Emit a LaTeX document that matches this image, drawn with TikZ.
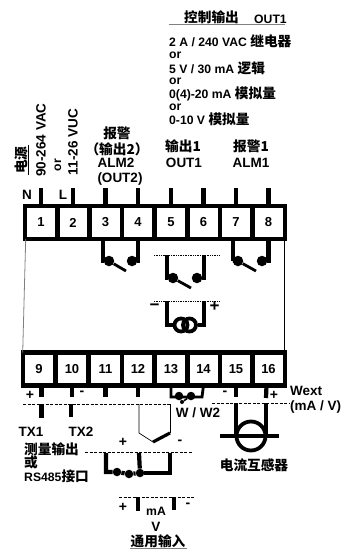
\documentclass[tikz,border=0pt]{standalone}
\usepackage{fontspec}
\setmainfont{Liberation Sans}
\newfontfamily\cjk[Scale=1.12]{Noto Sans CJK SC}
\newcommand{\zh}[1]{{\cjk #1}}
\tikzset{
  lab/.style={inner sep=0pt,font=\bfseries\fontsize{12.2}{12.2}\selectfont},
  big/.style={inner sep=0pt,font=\bfseries\fontsize{13.5}{13.5}\selectfont},
  sign/.style={inner sep=0pt,font=\bfseries\fontsize{14}{14}\selectfont},
  term/.style={draw,line width=4.4pt,minimum width=32.6pt,minimum height=33pt,inner sep=0pt,outer sep=0pt,font=\bfseries\fontsize{13}{13}\selectfont},
  wire/.style={line width=4.2pt},
  fine/.style={line width=0.7pt},
  dashline/.style={line width=0.6pt,dash pattern=on 3pt off 1.5pt},
  contact/.style={circle,fill,inner sep=0pt,minimum size=10.5pt},
  tiny/.style={circle,fill,inner sep=0pt,minimum size=8.5pt},
}
\begin{document}
\begin{tikzpicture}[x=1pt,y=-1pt]
  \useasboundingbox (0,0) rectangle (343,550);
  \node[term] (t1) at (41,222.5) {1};
  \node[term] (t2) at (73,222.5) {2};
  \node[term] (t3) at (105.5,222.5) {3};
  \node[term] (t4) at (138,222.5) {4};
  \node[term] (t5) at (171,222.5) {5};
  \node[term] (t6) at (203.5,222.5) {6};
  \node[term] (t7) at (236,222.5) {7};
  \node[term] (t8) at (268.5,222.5) {8};
  \node[term] (t9) at (39,369) {9};
  \node[term] (t10) at (72,369) {10};
  \node[term] (t11) at (105.5,369) {11};
  \node[term] (t12) at (138,369) {12};
  \node[term] (t13) at (171,369) {13};
  \node[term] (t14) at (203.5,369) {14};
  \node[term] (t15) at (236,369) {15};
  \node[term] (t16) at (268.5,369) {16};
  \draw[line width=0.8pt,gray] (t1.south west)++(1,0) -- (t9.north west);
  \draw[line width=0.8pt] (t8.south east)++(0,0) -- (t16.north east);

  \node[lab,anchor=west] (ctrl) at (184,17) {\zh{控制输出}};
  \node[lab,anchor=west] (ctrlout) at (254,19) {OUT1};
  \draw[line width=1pt,gray] (169,24) -- (285,24);
  \node[lab,anchor=west] (relay) at (169,41) {2 A / 240 VAC \zh{继电器}};
  \node[lab,anchor=west] (or1) at (169,55) {or};
  \node[lab,anchor=west] (logic) at (169,68) {5 V / 30 mA \zh{逻辑}};
  \node[lab,anchor=west] (or2) at (169,81) {or};
  \node[lab,anchor=west] (analog1) at (169,94) {0(4)-20 mA \zh{模拟量}};
  \node[lab,anchor=west] (or3) at (169,107) {or};
  \node[lab,anchor=west] (analog2) at (169,119) {0-10 V \zh{模拟量}};

  \node[lab,rotate=90] (power) at (21,160) {\zh{电源}};
  \draw[line width=0.8pt] (28.5,145) -- (28.5,175);
  \node[big,rotate=90] (vac) at (41,140) {90-264 VAC};
  \node[lab,rotate=90] (orv) at (58,165) {or};
  \node[big,rotate=90] (vuc) at (73,142) {11-26 VUC};
  \node[big] (nn) at (27,195) {N};
  \node[big] (ll) at (63,195) {L};
  \node[lab] (alm2a) at (117,133) {\zh{报警}};
  \node[lab] (alm2b) at (117,149) {\zh{（输出2）}};
  \node[big] (alm2c) at (116,163) {ALM2};
  \node[big] (alm2d) at (120,179) {(OUT2)};
  \node[lab] (out1a) at (183,146) {\zh{输出1}};
  \node[big] (out1b) at (184,163) {OUT1};
  \node[lab] (alm1a) at (251,146) {\zh{报警1}};
  \node[big] (alm1b) at (251,163) {ALM1};

  \draw[wire] (t1.north) -- ++(0,-18);
  \draw[wire] (t2.north) -- ++(0,-18);
  \draw[wire] (t3.north) -- ++(0,-18);
  \draw[wire] (t4.north) -- ++(0,-18);
  \draw[wire] (t5.north) -- ++(0,-18);
  \draw[wire] (t6.north) -- ++(0,-18);
  \draw[wire] (t7.north) -- ++(0,-18);
  \draw[wire] (t8.north) -- ++(0,-18);

  \node[contact] (c3) at (109,261) {};
  \node[contact] (c4) at (132,261) {};
  \draw[wire] ([xshift=-2.5pt]t3.south) |- (c3);
  \draw[wire] (t4.south) |- (c4);
  \draw[wire,line width=2.8pt] (c3) -- ++(17,10);
  \node[contact] (c7) at (238,261) {};
  \node[contact] (c8) at (262,261) {};
  \draw[wire] ([xshift=-3pt]t7.south) |- (c7);
  \draw[wire] (t8.south) |- (c8);
  \draw[wire,line width=2.8pt] (c7) -- ++(18,10);

  \coordinate (a5) at (167,255);
  \coordinate (a6) at (204,255);
  \draw[fine,densely dotted] (154,255) -- (220,255);
  \node[contact] (c5) at (173,278) {};
  \node[contact] (c6) at (197,278) {};
  \draw[wire] (a5) |- (c5);
  \draw[wire] (a6) |- (c6);
  \draw[wire,line width=2.8pt] (c5) -- ++(18,10);

  \coordinate (b5) at (167,301);
  \coordinate (b6) at (204,301);
  \draw[fine,densely dotted] (154,301) -- (220,301);
  \node[circle,draw,line width=3.8pt,inner sep=0pt,minimum size=13pt] (coil1) at (181,325) {};
  \node[circle,draw,line width=3.8pt,inner sep=0pt,minimum size=13pt] (coil2) at (189.5,325) {};
  \draw[wire] (b5) |- (coil1.west);
  \draw[wire] (b6) |- (coil2.east);
  \node[font=\bfseries\fontsize{17}{17}\selectfont,inner sep=0pt] (minus) at (154.5,307) {\textminus};
  \node[font=\bfseries\fontsize{17}{17}\selectfont,inner sep=0pt] (plus) at (214.5,307) {+};

  \node[sign] (p9) at (30,395) {+};
  \node[sign] (m10) at (82,393) {-};
  \draw[wire] ([xshift=2.5pt]t9.south) -- ++(0,11);
  \draw[wire] (t10.south) -- ++(0,11);
  \draw[wire] (t11.south) -- ++(0,11);
  \draw[wire] (t12.south) -- ++(0,11);
  \draw[wire] (t15.south) -- ++(0,11);
  \draw[wire] ([xshift=-2pt]t16.south) -- (266,398);
  \draw[dashline] (23,404) -- (170,404);
  \draw[dashline] (212,403) -- (290,403);
  \draw[wire] (41.5,404) -- (41.5,418);
  \draw[wire] (71,404) -- (71,417);
  \node[big] (tx1) at (31,432) {TX1};
  \node[big] (tx2) at (81,432) {TX2};

  \coordinate (w13) at (170,397);
  \coordinate (w14) at (202,397);
  \draw[wire,line width=2.8pt] (t13.south) |- (w14) -- (t14.south);
  \node[tiny] (j1) at (179,396) {};
  \node[tiny] (j2) at (191,396) {};
  \node[tiny,minimum size=4pt] (j3) at (182,402) {};
  \draw[line width=1.6pt] (j1) -- (j3) -- (j2);
  \node[big] (ww) at (198,413) {W / W2};
  \node[big,anchor=west] (wext) at (290,391) {Wext};
  \node[big,anchor=west] (wextb) at (290,407) {(mA / V)};
  \node[sign] (m15) at (225,393) {-};
  \node[sign] (p16) at (274,395) {+};

  \coordinate (k1) at (139,404);
  \coordinate (k2) at (139,433);
  \coordinate (k3) at (153,442);
  \coordinate (k4) at (170,433);
  \coordinate (k5) at (170,404);
  \draw[fine] (k1) -- (k2) -- (k3);
  \draw[wire,line width=3.2pt] (k3) -- (k4);
  \draw[fine] (k4) -- (k5);
  \node[sign] (p12) at (123,442) {+};
  \node[sign] (m13) at (180,442) {-};
  \node[lab,anchor=west] (meas) at (24,449) {\zh{测量输出}};
  \node[lab,anchor=west] (huo) at (24,462) {\zh{或}};
  \node[lab,anchor=west] (rs) at (24,476) {RS485\zh{接口}};

  \draw[dashline] (85,452.5) -- (193,452.5);
  \coordinate (d1) at (106,453);
  \coordinate (d2) at (139,453);
  \coordinate (d3) at (170,453);
  \node[tiny] (e1) at (117,472) {};
  \node[tiny] (e2) at (129,474) {};
  \node[tiny] (e3) at (140,473) {};
  \draw[wire] (d1) |- (e1) -- (e2) -- (e3);
  \draw[wire] (d2) -- (e3);
  \draw[wire] (d3) |- (e3);
  \draw[dashline] (119,497) -- (195,497);
  \coordinate (f1) at (138,497);
  \coordinate (f2) at (174,497);
  \draw[wire] (f1) -- ++(0,14);
  \draw[wire] (f2) -- ++(0,13);
  \node[sign] (p1) at (123,507) {+};
  \node[sign] (m1) at (188,505) {-};
  \node[lab] (ma) at (156,511) {mA};
  \node[big] (vv) at (156,527) {V};
  \node[lab] (univ) at (158,541) {\zh{通用输入}};
  \draw[line width=1pt,gray] (130,548) -- (187,548);

  \node[circle,draw,line width=3.8pt,inner sep=0pt,minimum size=29pt] (ct) at (251,436) {};
  \draw[wire] (236,403) -- (236,436);
  \draw[wire] (266,403) -- (266,436);
  \draw[wire] (220,436) -- (279,436);
  \node[lab] (ctl) at (254,465) {\zh{电流互感器}};
\end{tikzpicture}
\end{document}
